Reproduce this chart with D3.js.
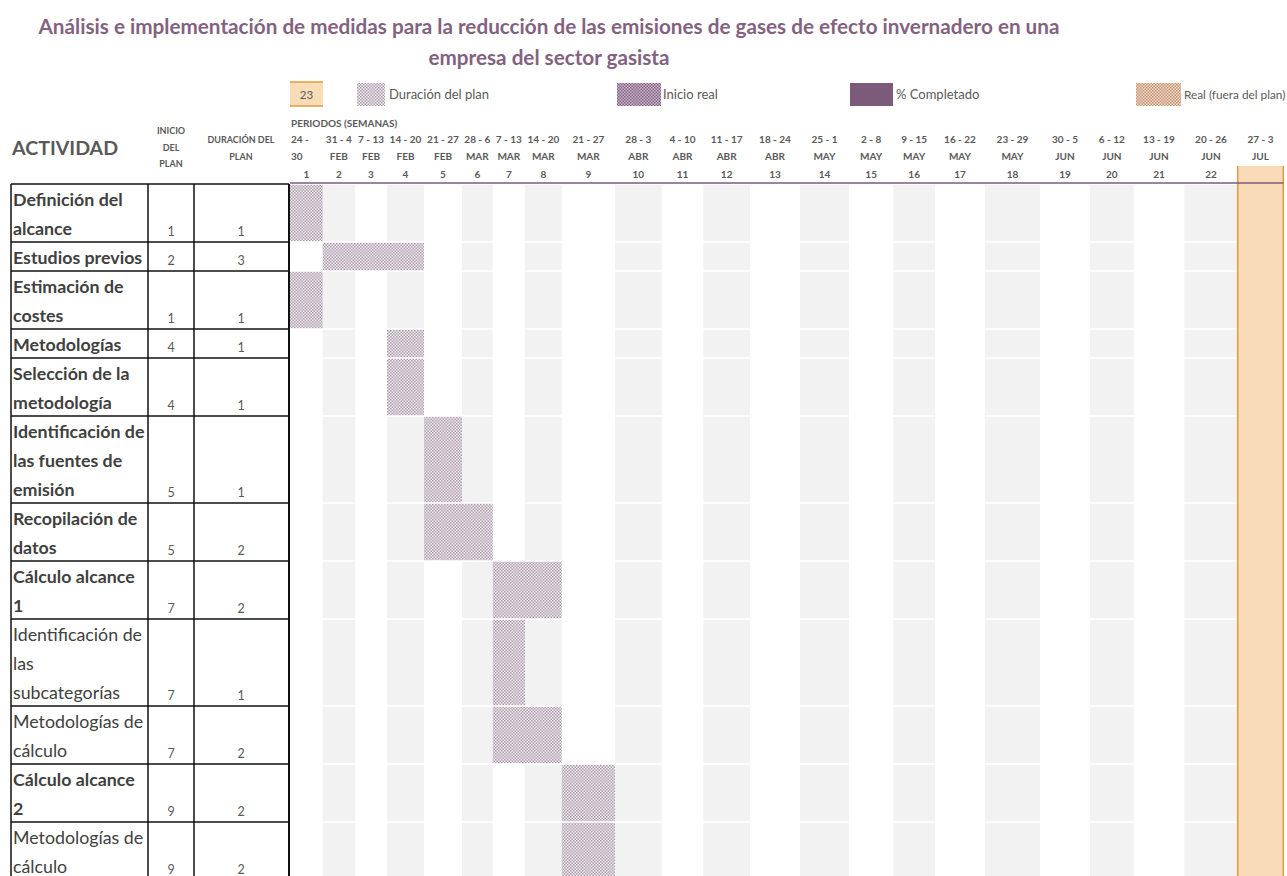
<!DOCTYPE html>
<html>
<head>
<meta charset="utf-8">
<script src="https://cdn.jsdelivr.net/npm/d3@7/dist/d3.min.js"></script>
<style>
  html, body { margin: 0; padding: 0; background: #fff; }
  svg { display: block; }
  text { font-family: Lato, "Open Sans", sans-serif; }
</style>
</head>
<body>
<svg id="chart" width="1287" height="876"></svg>
<script>
// ---------- data ----------
const titleLines = [
  "Análisis e implementación de medidas para la reducción de las emisiones de gases de efecto invernadero en una",
  "empresa del sector gasista"
];
const activityLines = [
  ["Definición del", "alcance"],
  ["Estudios previos"],
  ["Estimación de", "costes"],
  ["Metodologías"],
  ["Selección de la", "metodología"],
  ["Identificación de", "las fuentes de", "emisión"],
  ["Recopilación de", "datos"],
  ["Cálculo alcance", "1"],
  ["Identificación de", "las", "subcategorías"],
  ["Metodologías de", "cálculo"],
  ["Cálculo alcance", "2"],
  ["Metodologías de", "cálculo"]
];
const activityBold = [true, true, true, true, true, true, true, true, false, false, true, false];
const planStart    = [1, 2, 1, 4, 4, 5, 5, 7, 7, 7, 9, 9];
const planDuration = [1, 3, 1, 1, 1, 1, 2, 2, 1, 2, 2, 2];
// weeks covered by the drawn "Duración del plan" pattern, as seen in the chart
const barWeeks     = [1, 3, 1, 1, 1, 1, 2, 2, 1, 2, 1, 1];
const weekNumbers = d3.range(1, 24);
const weekTop = ["24 -", "31 - 4", "7 - 13", "14 - 20", "21 - 27", "28 - 6", "7 - 13", "14 - 20", "21 - 27",
  "28 - 3", "4 - 10", "11 - 17", "18 - 24", "25 - 1", "2 - 8", "9 - 15", "16 - 22", "23 - 29",
  "30 - 5", "6 - 12", "13 - 19", "20 - 26", "27 - 3"];
const weekBottom = ["30", "FEB", "FEB", "FEB", "FEB", "MAR", "MAR", "MAR", "MAR",
  "ABR", "ABR", "ABR", "ABR", "MAY", "MAY", "MAY", "MAY", "MAY",
  "JUN", "JUN", "JUN", "JUN", "JUL"];
const currentWeek = 23;
const legendLabels = ["Duración del plan", "Inicio real", "% Completado", "Real (fuera del plan)"];

// ---------- layout ----------
const W = 1287, H = 876;
const colEdges = [290, 322.7, 355, 387, 424, 462, 492.7, 525, 561.7, 615, 661.7, 703.3, 750, 800, 849,
  893.3, 935, 985, 1040, 1090, 1133.7, 1184.3, 1237.7, 1283.3];
const lineH = 29, tableTop = 184;
const tblX = [11, 148, 194, 289];

const svg = d3.select("#chart");
const defs = svg.append("defs");

function dither(id, bg, fg, size) {
  const p = defs.append("pattern").attr("id", id).attr("patternUnits", "userSpaceOnUse")
    .attr("width", size * 2).attr("height", size * 2);
  p.append("rect").attr("width", size * 2).attr("height", size * 2).attr("fill", bg);
  p.append("rect").attr("x", 0).attr("y", 0).attr("width", size).attr("height", size).attr("fill", fg);
  p.append("rect").attr("x", size).attr("y", size).attr("width", size).attr("height", size).attr("fill", fg);
}
dither("planPat", "#f2eef2", "#ac9cac", 1.5);
dither("realPat", "#c4b0c4", "#8a6a8a", 1.5);
dither("outPat", "#f3d9c2", "#c0957a", 1.5);

// scales
const x = d3.scaleLinear().domain(d3.range(1, 25)).range(colEdges);
const rowEdges = [0, ...d3.cumsum(activityLines, d => d.length)];
const y = d3.scaleLinear().domain(d3.range(0, activityLines.length + 1))
  .range(rowEdges.map(v => tableTop + v * lineH));

const purple = "#7b5b79";
const gray = "#595959";
const dark = "#404040";

// ---------- title ----------
svg.append("g").selectAll("text").data(titleLines).join("text")
  .attr("x", 549).attr("y", (d, i) => 34 + i * 31)
  .attr("text-anchor", "middle")
  .attr("font-size", 20.7).attr("font-weight", 700).attr("fill", "#83627f")
  .text(d => d);

// ---------- legend ----------
const lg = svg.append("g");
lg.append("rect").attr("x", x(1)).attr("y", 82).attr("width", 33).attr("height", 24).attr("fill", "#f8dcb6");
lg.append("line").attr("x1", x(1)).attr("x2", x(1) + 33).attr("y1", 82).attr("y2", 82).attr("stroke", "#e39a3e").attr("stroke-width", 1.5);
lg.append("line").attr("x1", x(1)).attr("x2", x(1) + 33).attr("y1", 106).attr("y2", 106).attr("stroke", "#e39a3e").attr("stroke-width", 1.5);
lg.append("text").attr("x", x(1) + 16.5).attr("y", 99).attr("text-anchor", "middle").attr("font-size", 11.5).attr("fill", gray).text(currentWeek);

const legendItems = [
  { fill: "url(#planPat)", x0: 357, w: 28, tx: 389, fs: 13 },
  { fill: "url(#realPat)", x0: 617, w: 44, tx: 663, fs: 13 },
  { fill: purple, x0: 850, w: 43, tx: 896, fs: 13 },
  { fill: "url(#outPat)", x0: 1136, w: 45, tx: 1184, fs: 11.8 }
];
legendItems.forEach((it, i) => {
  lg.append("rect").attr("x", it.x0).attr("y", 83).attr("width", it.w).attr("height", 23).attr("fill", it.fill);
  lg.append("text").attr("x", it.tx).attr("y", 99).attr("font-size", it.fs).attr("fill", gray).text(legendLabels[i]);
});

// ---------- header ----------
const hd = svg.append("g").attr("font-weight", 700).attr("fill", gray);
hd.append("text").attr("x", 12).attr("y", 155).attr("font-size", 19.6).text("ACTIVIDAD");
["INICIO", "DEL", "PLAN"].forEach((t, i) =>
  hd.append("text").attr("x", 171).attr("y", 134 + i * 16.5).attr("text-anchor", "middle").attr("font-size", 9).text(t));
["DURACIÓN DEL", "PLAN"].forEach((t, i) =>
  hd.append("text").attr("x", 241).attr("y", 143 + i * 16.5).attr("text-anchor", "middle").attr("font-size", 9).text(t));
hd.append("text").attr("x", 291).attr("y", 127).attr("font-size", 10).text("PERIODOS (SEMANAS)");

// current week column highlight
svg.append("rect").attr("x", x(currentWeek)).attr("y", 166)
  .attr("width", x(currentWeek + 1) - x(currentWeek)).attr("height", H - 166).attr("fill", "#f9dcb7");

const wk = hd.append("g").selectAll("g").data(weekNumbers).join("g");
wk.append("text")
  .attr("x", d => d === 1 ? x(d) + 1 : (x(d) + x(d + 1)) / 2)
  .attr("text-anchor", d => d === 1 ? "start" : "middle")
  .attr("y", 143).attr("font-size", 10).text((d, i) => weekTop[i]);
wk.append("text")
  .attr("x", d => d === 1 ? x(d) + 1 : (x(d) + x(d + 1)) / 2)
  .attr("text-anchor", d => d === 1 ? "start" : "middle")
  .attr("y", 160).attr("font-size", 10).text((d, i) => weekBottom[i]);
wk.append("text")
  .attr("x", d => (x(d) + x(d + 1)) / 2).attr("text-anchor", "middle")
  .attr("y", 177.5).attr("font-size", 10).text(d => d);

// ---------- grid background ----------
const grid = svg.append("g");
activityLines.forEach((_, r) => {
  grid.selectAll(null).data(weekNumbers.filter(w => w % 2 === 0)).join("rect")
    .attr("x", w => x(w)).attr("width", w => x(w + 1) - x(w))
    .attr("y", y(r) + 0.8).attr("height", y(r + 1) - y(r) - 1.6)
    .attr("fill", "#f2f2f2");
});

// current-week borders
[currentWeek, currentWeek + 1].forEach(w =>
  svg.append("line").attr("x1", x(w)).attr("x2", x(w)).attr("y1", 166).attr("y2", H)
    .attr("stroke", "#e29a45").attr("stroke-width", 1.5));

// header underline
svg.append("line").attr("x1", x(1)).attr("x2", x(24)).attr("y1", 183).attr("y2", 183)
  .attr("stroke", purple).attr("stroke-width", 1.5);

// ---------- plan bars ----------
svg.append("g").selectAll("rect").data(activityLines).join("rect")
  .attr("x", (d, i) => x(planStart[i]))
  .attr("width", (d, i) => x(planStart[i] + barWeeks[i]) - x(planStart[i]))
  .attr("y", (d, i) => y(i) + 0.8)
  .attr("height", (d, i) => y(i + 1) - y(i) - 1.6)
  .attr("fill", "url(#planPat)");

// ---------- left table ----------
const tbl = svg.append("g");
const rows = tbl.selectAll("g").data(activityLines).join("g");
rows.each(function (lines, r) {
  const g = d3.select(this);
  lines.forEach((t, k) => {
    g.append("text").attr("x", 13).attr("y", y(r) + (k + 1) * lineH - 7)
      .attr("font-size", 17.8).attr("font-weight", activityBold[r] ? 700 : 400)
      .attr("fill", dark).text(t);
  });
  g.append("text").attr("x", 171).attr("y", y(r + 1) - 6).attr("text-anchor", "middle")
    .attr("font-size", 12.5).attr("fill", gray).text(planStart[r]);
  g.append("text").attr("x", 241).attr("y", y(r + 1) - 6).attr("text-anchor", "middle")
    .attr("font-size", 12.5).attr("fill", gray).text(planDuration[r]);
});
// borders
tbl.selectAll("line.h").data(d3.range(0, activityLines.length + 1)).join("line")
  .attr("x1", tblX[0]).attr("x2", tblX[3]).attr("y1", r => y(r)).attr("y2", r => y(r))
  .attr("stroke", "#111").attr("stroke-width", 1.5);
tbl.selectAll("line.v").data(tblX).join("line")
  .attr("x1", d => d).attr("x2", d => d).attr("y1", tableTop).attr("y2", H)
  .attr("stroke", "#111").attr("stroke-width", (d, i) => i === 3 ? 2 : 1.5);
</script>
</body>
</html>
